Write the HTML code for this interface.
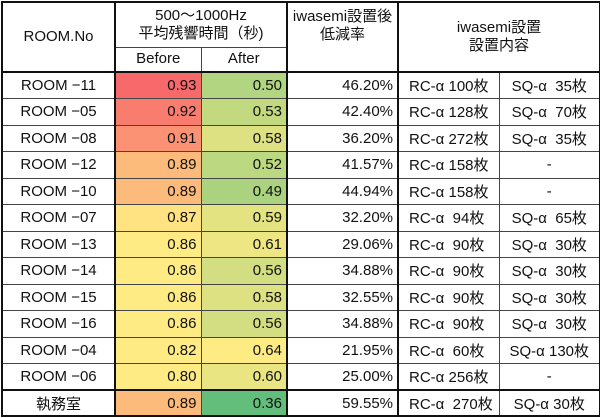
<!DOCTYPE html>
<html><head><meta charset="utf-8">
<style>
html,body{margin:0;padding:0;background:#fff;}
body{width:600px;height:418px;overflow:hidden;font-family:"Liberation Sans","Noto Sans CJK JP",sans-serif;color:#111;}
table{border-collapse:collapse;position:absolute;left:1px;top:1px;width:598px;table-layout:fixed;font-size:15px;}
td,th{border:1px solid #444;padding:0 4px;white-space:nowrap;font-weight:normal;}
th{text-align:center;line-height:18px;}
.num{text-align:right;}
.c{text-align:center;}
.thickL{border-left:2px solid #111;}
.thickT td{border-top:2px solid #111;}
table{border:2px solid #111;}
</style></head><body>
<table id="t">
<colgroup><col style="width:113px"><col style="width:86px"><col style="width:86px"><col style="width:111px"><col style="width:101px"><col style="width:101px"></colgroup>
<thead>
<tr style="height:45px">
<th rowspan="2">ROOM.No</th>
<th colspan="2" class="thickL" style="border-right:2px solid #111">500〜1000Hz<br>平均残響時間（秒)</th>
<th rowspan="2" style="vertical-align:top;padding-top:5px">iwasemi設置後<br>低減率</th>
<th rowspan="2" colspan="2" class="thickL">iwasemi設置<br>設置内容</th>
</tr>
<tr style="height:25px">
<th class="thickL">Before</th>
<th style="border-right:2px solid #111">After</th>
</tr>
</thead>
<tbody id="tb"></tbody>
</table>
<script>
const rooms=["ROOM −11","ROOM −05","ROOM −08","ROOM −12","ROOM −10","ROOM −07","ROOM −13","ROOM −14","ROOM −15","ROOM −16","ROOM −04","ROOM −06","執務室"];
const before=[0.93,0.92,0.91,0.89,0.89,0.87,0.86,0.86,0.86,0.86,0.82,0.80,0.89];
const after=[0.50,0.53,0.58,0.52,0.49,0.59,0.61,0.56,0.58,0.56,0.64,0.60,0.36];
const reduction=["46.20%","42.40%","36.20%","41.57%","44.94%","32.20%","29.06%","34.88%","32.55%","34.88%","21.95%","25.00%","59.55%"];
const rc=["RC-α 100枚","RC-α 128枚","RC-α 272枚","RC-α 158枚","RC-α 158枚","RC-α  94枚","RC-α  90枚","RC-α  90枚","RC-α  90枚","RC-α  90枚","RC-α  60枚","RC-α 256枚","RC-α  270枚"];
const sq=["SQ-α  35枚","SQ-α  70枚","SQ-α  35枚","-","-","SQ-α  65枚","SQ-α  30枚","SQ-α  30枚","SQ-α  30枚","SQ-α  30枚","SQ-α 130枚","-","SQ-α 30枚"];
function mix(a,b,t){t=Math.max(0,Math.min(1,t));return 'rgb('+a.map((v,i)=>Math.round(v+(b[i]-v)*t)).join(',')+')';}
const Y=[255,235,132],R=[248,105,107],G=[99,190,123];
function beforeColor(v){return v<=0.866?mix(Y,Y,0):mix(Y,R,(v-0.866)/(0.93-0.866));}
function afterColor(v){return mix(Y,G,(0.64-v)/(0.64-0.36));}
const tb=document.getElementById('tb');
rooms.forEach((r,i)=>{
  const tr=document.createElement('tr');
  
  
  const last=i===rooms.length-1;
  tr.style.height=last?'26px':'26.5px';
  if(i===0||last)tr.className='thickT';
  tr.innerHTML='<td class="c">'+r+'</td>'+
   '<td class="num thickL" style="background:'+beforeColor(before[i])+'">'+before[i].toFixed(2)+'</td>'+
   '<td class="num" style="border-right:2px solid #111;background:'+afterColor(after[i])+'">'+after[i].toFixed(2)+'</td>'+
   '<td class="num">'+reduction[i]+'</td>'+
   '<td class="thickL" style="white-space:pre;padding-left:10px">'+rc[i]+'</td>'+
   '<td class="c" style="white-space:pre">'+sq[i]+'</td>';
  tb.appendChild(tr);
});
</script>
</body></html>
